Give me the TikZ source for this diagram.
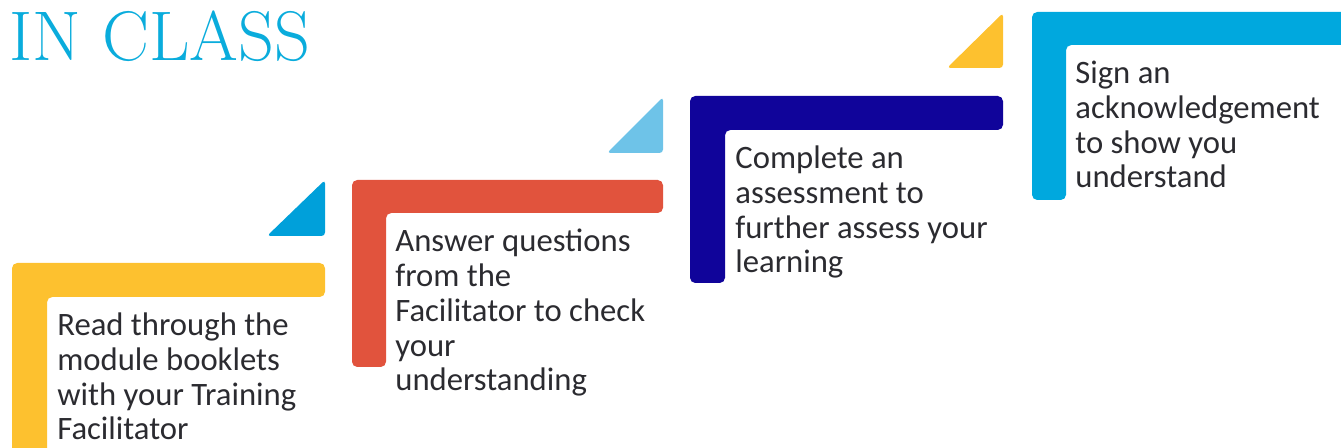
\documentclass[tikz,border=0pt]{standalone}
\usepackage{fontspec}
\newfontfamily\stepfont{Carlito}
\definecolor{stepyellow}{HTML}{FDC12F}
\definecolor{stepred}{HTML}{E1533D}
\definecolor{stepnavy}{HTML}{10049A}
\definecolor{stepcyan}{HTML}{00A8DE}
\definecolor{cornerblue}{HTML}{00A0DA}
\definecolor{cornerlight}{HTML}{6EC3E8}
\definecolor{titlecyan}{HTML}{0AACDC}
\definecolor{steptextgray}{HTML}{2B2B30}
\begin{document}
\begin{tikzpicture}[x=0.02cm, y=-0.02cm,
  stepbar/.style={rounded corners=3pt},
  corner/.style={rounded corners=2pt},
  steptext/.style={anchor=base west, inner sep=0pt, align=left, text=steptextgray,
    font=\stepfont\fontsize{18.6}{19.9}\selectfont},
  title/.style={anchor=base west, inner sep=0pt, text=titlecyan,
    font=\fontsize{40}{40}\selectfont}]
\useasboundingbox (0,0) rectangle (1341,448);

\node[title] (inclass) at (9,61) {IN CLASS};

\fill[stepyellow, stepbar] (12,263)--(325,263)--(325,297)--(47,297)--(47,470)--(12,470)--cycle;
\fill[stepred, stepbar] (352,180)--(663,180)--(663,213)--(386,213)--(386,367)--(352,367)--cycle;
\fill[stepnavy, stepbar] (690,96)--(1003,96)--(1003,130)--(725,130)--(725,283)--(690,283)--cycle;
\fill[stepcyan, stepbar] (1032,12)--(1360,12)--(1360,45)--(1066,45)--(1066,200)--(1032,200)--cycle;

\fill[cornerblue, corner] (325,180)--(325,236)--(267,236)--cycle;
\fill[cornerlight, corner] (663,97)--(663,153)--(607,153)--cycle;
\fill[stepyellow, corner] (1003,13)--(1003,68)--(947,68)--cycle;

% base anchor sits on the last line
\node[steptext] (read) at (57,440) {Read through the\\module booklets\\with your Training\\Facilitator};
\node[steptext] (answer) at (395,391) {Answer questions\\from the\\Facilitator to check\\your\\understanding};
\node[steptext] (assess) at (735,273) {Complete an\\assessment to\\further assess your\\learning};
\node[steptext] (sign) at (1075,188) {Sign an\\acknowledgement\\to show you\\understand};

\end{tikzpicture}
\end{document}
